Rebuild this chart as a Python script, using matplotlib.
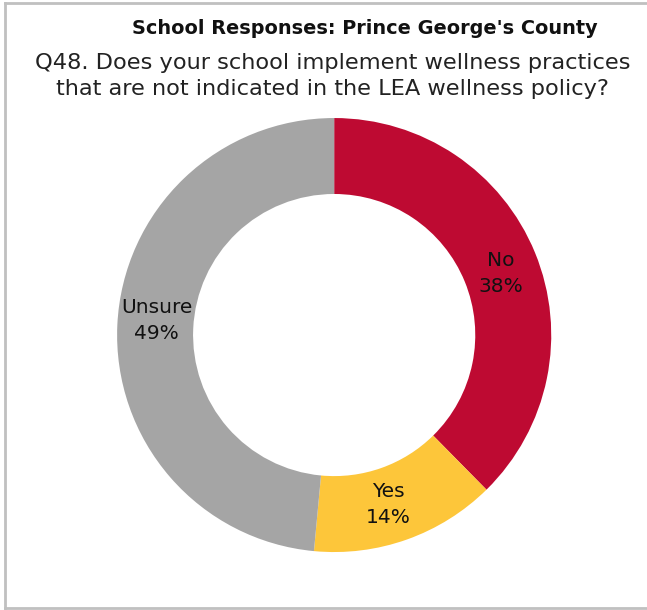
import numpy as np
import matplotlib.pyplot as plt
from matplotlib.lines import Line2D

categories = ["No", "Yes", "Unsure"]
percents = [38, 14, 49]
colors = ["#BE0A32", "#FDC63A", "#A5A5A5"]

title = "School Responses: Prince George's County"
question = "Q48. Does your school implement wellness practices\nthat are not indicated in the LEA wellness policy?"

plt.rcParams['font.family'] = ['DejaVu Sans']

fig = plt.figure(figsize=(6.47, 6.10), dpi=100)

# рамка вокруг картинки (без правой стороны)
fig.add_artist(Line2D([0.008, 0.008], [0.003, 0.995], color="#c0c0c0", lw=2, transform=fig.transFigure))
fig.add_artist(Line2D([0.008, 1.0], [0.995, 0.995], color="#c0c0c0", lw=2, transform=fig.transFigure))
fig.add_artist(Line2D([0.008, 1.0], [0.003, 0.003], color="#c0c0c0", lw=2, transform=fig.transFigure))

fig.text(0.564, 0.953, title, ha="center", va="center", fontsize=13.9, fontweight="bold", color="#111111")
fig.text(0.514, 0.875, question, ha="center", va="center", fontsize=16.2, color="#222222",
         linespacing=1.4)

ax = fig.add_axes([0.181, 0.095, 0.671, 0.7115])
wedges, _ = ax.pie(percents, colors=colors, startangle=90, counterclock=False,
                   radius=1.0, wedgeprops=dict(width=0.35, linewidth=0))
ax.set_xlim(-1, 1)
ax.set_ylim(-1, 1)
ax.set_aspect("auto")

for w, cat, p in zip(wedges, categories, percents):
    mid = np.deg2rad((w.theta1 + w.theta2) / 2 - 2)
    r = 0.82
    ax.text(r * np.cos(mid), r * np.sin(mid), f"{cat}\n{p}%", ha="center", va="center",
            fontsize=14.5, color="#111111", linespacing=1.45)

plt.savefig("out.png", dpi=100)
